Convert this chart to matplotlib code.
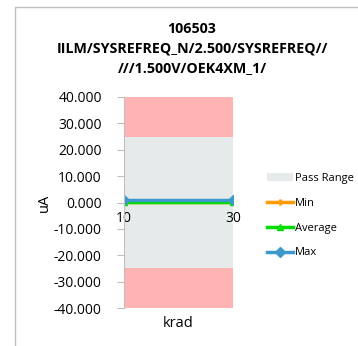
import matplotlib.pyplot as plt
from matplotlib.patches import Rectangle

# data
krad = [10, 30]
min_vals = [0.1, 0.1]
avg_vals = [0.3, 0.3]
max_vals = [0.8, 0.8]
pass_lo, pass_hi = -25, 25
y_lo, y_hi = -40, 40
yticks = [40, 30, 20, 10, 0, -10, -20, -30, -40]

title = "106503\nIILM/SYSREFREQ_N/2.500/SYSREFREQ//\n///1.500V/OEK4XM_1/"

plt.rcParams['font.family'] = ['Open Sans', 'DejaVu Sans']

fig = plt.figure(figsize=(3.58, 3.46), dpi=100)
fig.patches.append(Rectangle((15 / 358, -0.1), 1.2, (346 - 7) / 346 + 0.1,
                             transform=fig.transFigure, fill=False,
                             edgecolor='#bfbfbf', linewidth=1))

ax = fig.add_axes([124 / 358, 1 - 308 / 346, (233 - 124) / 358, (308 - 97) / 346])

# fail bands and pass band
ax.axhspan(pass_hi, y_hi, color='#ffb3b3', lw=0)
ax.axhspan(y_lo, pass_lo, color='#ffb3b3', lw=0)
ax.axhspan(pass_lo, pass_hi, color='#e6eaea', lw=0, label='Pass Range')

ax.plot(krad, min_vals, color='#ff9900', lw=2.5, marker='+', ms=5, mew=2, label='Min')
ax.plot(krad, avg_vals, color='#00dd00', lw=2.5, marker='^', ms=5, label='Average')
ax.plot(krad, max_vals, color='#3d99cc', lw=2.5, marker='D', ms=5, label='Max')

ax.set_xlim(krad[0], krad[-1])
ax.set_ylim(y_lo, y_hi)
ax.set_yticks(yticks)
ax.set_yticklabels([f"{v:.3f}" for v in yticks], fontsize=10)
ax.set_xticks(krad)
ax.set_xticklabels([str(k) for k in krad], fontsize=8.5)

for s in ['top', 'right']:
    ax.spines[s].set_visible(False)
ax.spines['left'].set_color('#bfbfbf')
ax.tick_params(axis='y', length=5, color='#bfbfbf', pad=11)
ax.tick_params(axis='x', length=0, pad=6)
# x labels sit just under the zero line
ax.spines['bottom'].set_position(('data', 0))
ax.spines['bottom'].set_visible(False)

ax.set_ylabel('uA', fontsize=10.5)
ax.yaxis.set_label_coords(-0.66, 0.5)
ax.set_xlabel('krad', fontsize=10.5)
ax.xaxis.set_label_coords(0.5, -0.04)

fig.text(192 / 358, 1 - 22 / 346, title, fontsize=10.3, fontweight='bold',
         ha='center', va='top', linespacing=1.5, multialignment='center')

ax.legend(loc='center left', bbox_to_anchor=(1.22, 0.438), frameon=False,
          fontsize=8, handlelength=2.3, labelspacing=1.25, handletextpad=0.2)

fig.savefig('out.png', dpi=100)
